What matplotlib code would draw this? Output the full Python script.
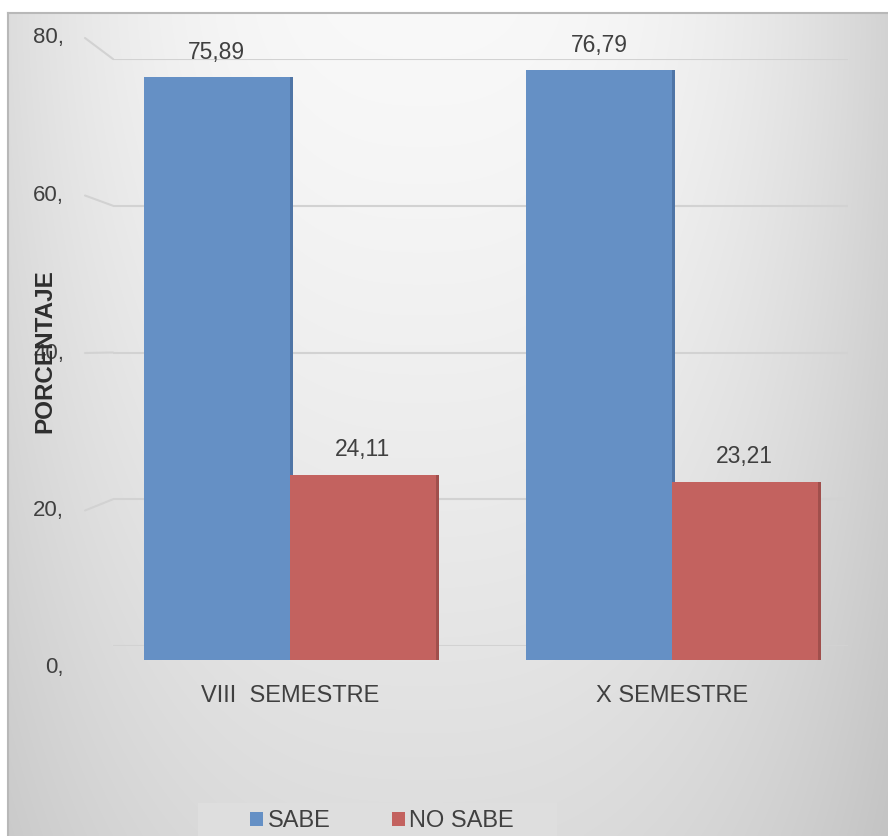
import numpy as np
import matplotlib.pyplot as plt
from matplotlib.patches import ConnectionPatch, Rectangle

plt.rcParams['font.family'] = ['Liberation Sans', 'DejaVu Sans']

categories = ['VIII  SEMESTRE', 'X SEMESTRE']
series_names = ['SABE', 'NO SABE']
sabe = [75.89, 76.79]
no_sabe = [24.11, 23.21]
value_labels_sabe = ['75,89', '76,79']
value_labels_no_sabe = ['24,11', '23,21']
y_ticks = [0, 20, 40, 60, 80]
y_tick_labels = ['0,', '20,', '40,', '60,', '80,']

BLUE = '#6590c5'
BLUE_DARK = '#4f75a6'
RED = '#c3625f'
RED_DARK = '#a04f4c'
GRID = '#d2d2d2'
TEXT = '#404040'

W, H = 888, 836
fig = plt.figure(figsize=(W / 100, H / 100), dpi=100)


def box(x0, y0, x1, y1):
    """Pixel box with top-left origin -> figure-fraction rect."""
    return [x0 / W, 1 - y1 / H, (x1 - x0) / W, (y1 - y0) / H]


# chart area background with soft gradient
bg = fig.add_axes(box(8, 13, 888, 836))
u = np.linspace(0, 1, 400)[None, :]
v = np.linspace(0, 1, 400)[:, None]
d = np.abs(u - 0.47) / 0.53
shade = 0.975 - 0.11 * v ** 1.3 - 0.15 * d ** 2.6 * (1 - 0.35 * v)
shade = np.clip(shade, 0, 1)
bg.imshow(np.dstack([shade, shade, shade]), aspect='auto',
          extent=(0, 1, 0, 1), interpolation='bicubic')
bg.set_xticks([])
bg.set_yticks([])
for side in ['right', 'bottom']:
    bg.spines[side].set_visible(False)
for side in ['top', 'left']:
    bg.spines[side].set_color('#b8b8b8')
    bg.spines[side].set_linewidth(1.5)

# back wall with gridlines
wall = fig.add_axes(box(113, 59, 848, 646))
wall.set_xlim(0, 1)
wall.set_ylim(0, 80)
wall.patch.set_alpha(0)
for s in wall.spines.values():
    s.set_visible(False)
wall.set_xticks([])
wall.set_yticks([])
for t in y_ticks:
    wall.axhline(t, color=GRID, lw=1.5, zorder=1)

# value axis labels, with slanted leaders to the wall
lab = fig.add_axes(box(20, 38, 85, 668))
lab.set_xlim(0, 65)
lab.set_ylim(0, 80)
lab.axis('off')
for t, s in zip(y_ticks, y_tick_labels):
    lab.text(44, t, s, ha='right', va='center', fontsize=16, color=TEXT)
    if t > 0:
        con = ConnectionPatch(xyA=(65, t), coordsA=lab.transData,
                              xyB=(0, t), coordsB=wall.transData,
                              color=GRID, lw=1.5)
        fig.add_artist(con)

# bars
ax = fig.add_axes(box(113, 45.5, 848, 660))
ax.patch.set_alpha(0)
x = np.arange(len(categories))
w = 0.382
off = 0.008
ax.bar(x - w / 2 + off, sabe, w, color=BLUE_DARK, zorder=2)
ax.bar(x + w / 2 + off, no_sabe, w, color=RED_DARK, zorder=2)
b1 = ax.bar(x - w / 2, sabe, w, color=BLUE, zorder=3, label=series_names[0])
b2 = ax.bar(x + w / 2, no_sabe, w, color=RED, zorder=4, label=series_names[1])
for xi, val, s in zip(x - w / 2, sabe, value_labels_sabe):
    ax.annotate(s, (xi, val), xytext=(0, 18), textcoords='offset points',
                ha='center', va='center', fontsize=16.5, color=TEXT)
for xi, val, s in zip(x + w / 2, no_sabe, value_labels_no_sabe):
    ax.annotate(s, (xi, val), xytext=(0, 18), textcoords='offset points',
                ha='center', va='center', fontsize=16.5, color=TEXT)
ax.set_xlim(-0.463, 1.461)
ax.set_ylim(0, 80)
ax.set_yticks([])
ax.set_xticks(x)
ax.set_xticklabels(categories, fontsize=17, color=TEXT)
ax.tick_params(axis='x', length=0, pad=18)
for s in ax.spines.values():
    s.set_visible(False)

fig.text(45 / W, 1 - 351 / H, 'PORCENTAJE', rotation=90, ha='center',
         va='center', fontsize=17.5, fontweight='bold', color='#2e2e2e')

# legend
fig.add_artist(Rectangle((198 / W, 0), (557 - 198) / W, (836 - 803) / H,
                         transform=fig.transFigure, facecolor='#dedede',
                         edgecolor='none', zorder=5))
leg = fig.legend(handles=[b1, b2], labels=series_names, loc='center',
                 bbox_to_anchor=(382 / W, 1 - 821 / H), ncol=2, frameon=False,
                 fontsize=17, handlelength=0.55, handleheight=0.55,
                 handletextpad=0.2, columnspacing=2.6, borderpad=0)
leg.set_zorder(6)
for t in leg.get_texts():
    t.set_color(TEXT)

fig.savefig('out.png', dpi=100)
